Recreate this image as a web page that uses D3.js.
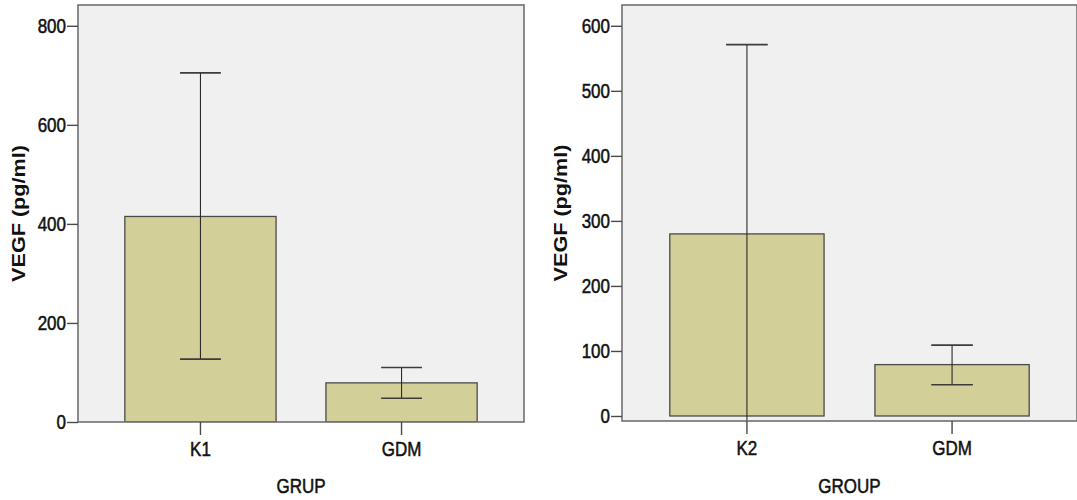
<!DOCTYPE html>
<html>
<head>
<meta charset="utf-8">
<script src="https://cdn.jsdelivr.net/npm/d3@7"></script>
<style>
  body { margin: 0; background: #fff; }
  text { font-family: "Liberation Sans", Arial, sans-serif; fill: #111; }
  .lbl { stroke: #111; stroke-width: 0.45px; }
</style>
</head>
<body>
<script>
// values
var groupsLeft = ["K1", "GDM"],
    meanLeft = [415, 79],
    lowLeft = [127, 48],
    highLeft = [705, 110],
    ticksLeft = [0, 200, 400, 600, 800];

var groupsRight = ["K2", "GDM"],
    meanRight = [280, 79],
    lowRight = [-11, 48],
    highRight = [571, 109],
    ticksRight = [0, 100, 200, 300, 400, 500, 600];

var width = 1077, height = 500;
var stretch = 1.15; // text in the picture is a little taller than wide

var svg = d3.select("body").append("svg")
    .attr("width", width)
    .attr("height", height);

// left chart
drawPanel({
  x0: 78, x1: 524, y0: 5, y1: 422,
  domain: [0, 842],
  groups: groupsLeft, mean: meanLeft, low: lowLeft, high: highLeft,
  ticks: ticksLeft, xTitle: "GRUP", titleX: 25, id: "a"
});

// right chart
drawPanel({
  x0: 622, x1: 1077, y0: 5, y1: 421,
  domain: [-7.7, 632],
  groups: groupsRight, mean: meanRight, low: lowRight, high: highRight,
  ticks: ticksRight, xTitle: "GROUP", titleX: 567, id: "b"
});

function drawPanel(p){
  var g = svg.append("g");

  var x = d3.scaleBand()
      .domain(p.groups)
      .range([p.x0, p.x1])
      .paddingInner(0.248)
      .paddingOuter(0.233);

  var y = d3.scaleLinear()
      .domain(p.domain)
      .range([p.y1, p.y0]);

  // clip so whiskers stay inside the frame
  svg.append("clipPath").attr("id", "clip" + p.id)
    .append("rect")
      .attr("x", p.x0).attr("y", p.y0)
      .attr("width", p.x1 - p.x0).attr("height", p.y1 - p.y0);

  // plot background
  g.append("rect")
      .attr("x", p.x0).attr("y", p.y0)
      .attr("width", p.x1 - p.x0).attr("height", p.y1 - p.y0)
      .attr("fill", "#f0f0f0");

  var rows = p.groups.map(function(d, i){
    return {name: d, mean: p.mean[i], low: p.low[i], high: p.high[i]};
  });

  var plot = g.append("g").attr("clip-path", "url(#clip" + p.id + ")");

  // bars
  plot.selectAll(".bar")
    .data(rows)
    .enter()
    .append("rect")
      .attr("class", "bar")
      .attr("x", function(d){ return x(d.name); })
      .attr("width", x.bandwidth())
      .attr("y", function(d){ return y(d.mean); })
      .attr("height", function(d){ return y(0) - y(d.mean); })
      .attr("fill", "#d3cf98")
      .attr("stroke", "#4a4a4a")
      .attr("stroke-width", 1.3);

  // error bars
  var cap = x.bandwidth() * 0.135;
  var err = plot.selectAll(".err")
    .data(rows)
    .enter()
    .append("g")
      .attr("class", "err")
      .attr("transform", function(d){ return "translate(" + (x(d.name) + x.bandwidth() / 2) + ",0)"; });

  err.append("line")
      .attr("y1", function(d){ return y(d.low); })
      .attr("y2", function(d){ return y(d.high); })
      .attr("stroke", "#2a2a2a")
      .attr("stroke-width", 1.1);

  err.selectAll(".cap")
    .data(function(d){ return [d.low, d.high]; })
    .enter()
    .append("line")
      .attr("x1", -cap).attr("x2", cap)
      .attr("y1", function(v){ return y(v); })
      .attr("y2", function(v){ return y(v); })
      .attr("stroke", "#3c3c3c")
      .attr("stroke-width", 1.6);

  // frame
  g.append("rect")
      .attr("x", p.x0).attr("y", p.y0)
      .attr("width", p.x1 - p.x0).attr("height", p.y1 - p.y0)
      .attr("fill", "none")
      .attr("stroke", "#707070")
      .attr("stroke-width", 1.6);

  // y axis
  var yAxis = g.append("g")
      .attr("transform", "translate(" + p.x0 + ",0)")
      .call(d3.axisLeft(y).tickValues(p.ticks).tickSize(11).tickPadding(1));
  yAxis.select(".domain").remove();
  yAxis.selectAll(".tick line").attr("stroke", "#4a4a4a").attr("stroke-width", 1.4);
  yAxis.selectAll(".tick text")
      .attr("class", "lbl")
      .style("font-size", "17px")
      .attr("fill", "#111")
      .attr("transform", "scale(1," + stretch + ")");

  // x axis
  var xAxis = g.append("g")
      .attr("transform", "translate(0," + p.y1 + ")")
      .call(d3.axisBottom(x).tickSize(13).tickSizeOuter(0));
  xAxis.select(".domain").remove();
  xAxis.selectAll(".tick line").attr("stroke", "#4a4a4a").attr("stroke-width", 1.4);
  xAxis.selectAll(".tick text")
      .attr("class", "lbl")
      .style("font-size", "17px")
      .attr("fill", "#111")
      .attr("y", 0).attr("dy", 0)
      .attr("transform", "translate(0,34) scale(1," + stretch + ")");

  // axis titles
  g.append("text")
      .attr("class", "lbl")
      .attr("transform", "translate(" + ((p.x0 + p.x1) / 2) + ",493) scale(1," + stretch + ")")
      .attr("text-anchor", "middle")
      .style("font-size", "17px")
      .text(p.xTitle);

  g.append("text")
      .attr("transform", "translate(" + p.titleX + "," + ((p.y0 + p.y1) / 2) + ") scale(1," + (stretch + 0.05) + ") rotate(-90)")
      .attr("text-anchor", "middle")
      .style("font-size", "18px")
      .style("font-weight", "bold")
      .text("VEGF (pg/ml)");
}
</script>
</body>
</html>
